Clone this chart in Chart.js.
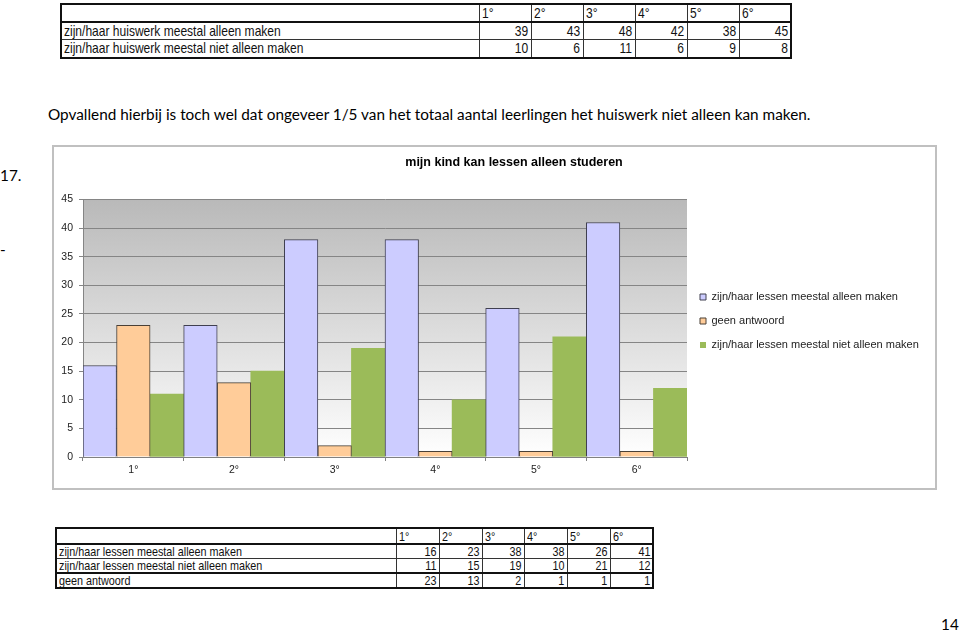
<!DOCTYPE html>
<html><head><meta charset="utf-8">
<script src="https://cdn.jsdelivr.net/npm/chart.js@4.4.0/dist/chart.umd.min.js"></script>
<style>
body{margin:0;width:960px;height:634px;background:#fff;position:relative;overflow:hidden;font-family:"Liberation Sans",Arial,sans-serif;}
.abs{position:absolute;white-space:nowrap;}
.doc{font-family:Lato,"Open Sans",sans-serif;color:#000;line-height:1;}
table.xl{border-collapse:collapse;position:absolute;table-layout:fixed;color:#111;border:2px solid #111;font-family:"Liberation Sans",Arial,sans-serif;}
table.xl td{border:1px solid #333;padding:0 2px;white-space:nowrap;overflow:hidden;line-height:1;}
table.xl td span{display:inline-block;transform:scaleX(0.83);transform-origin:left center;}
table.xl td.n{text-align:right;}
table.xl td.n span{transform-origin:right center;}
table.xl tr.hd td{border-bottom:2px solid #111;}
table.xl tr.thick td{border-top:2px solid #111;}
#chartBox{position:absolute;left:52px;top:145px;width:881px;height:341px;border:2px solid #c0c0c0;background:#fff;}
</style></head>
<body>
<table class="xl" id="topTable" style="left:60px;top:3px;width:730px;font-size:14.5px;"></table>

<div class="abs doc" id="para" style="left:48px;top:107px;font-size:15.5px;">Opvallend hierbij is toch wel dat ongeveer 1/5 van het totaal aantal leerlingen het huiswerk niet alleen kan maken.</div>
<div class="abs doc" style="left:0px;top:168px;font-size:15.5px;">17.</div>
<div class="abs doc" style="left:0px;top:242px;font-size:15.5px;">-</div>

<div id="chartBox"><canvas id="c" width="881" height="341"></canvas></div>

<table class="xl" id="botTable" style="left:55px;top:527px;width:597px;font-size:13px;"></table>

<div class="abs doc" style="left:941px;top:617px;font-size:15.5px;">14</div>

<script>
// ---- data ----
const categories = ['1°','2°','3°','4°','5°','6°'];
const lessenAlleen = [16, 23, 38, 38, 26, 41];
const geenAntwoord = [23, 13, 2, 1, 1, 1];
const lessenNietAlleen = [11, 15, 19, 10, 21, 12];
const huiswerkAlleen = [39, 43, 48, 42, 38, 45];
const huiswerkNietAlleen = [10, 6, 11, 6, 9, 8];
const seriesNames = ['zijn/haar lessen meestal alleen maken', 'geen antwoord', 'zijn/haar lessen meestal niet alleen maken'];
const huiswerkNames = ['zijn/haar huiswerk meestal alleen maken', 'zijn/haar huiswerk meestal niet alleen maken'];
const chartTitle = 'mijn kind kan lessen alleen studeren';

// ---- tables ----
function cell(text, cls) {
  const td = document.createElement('td');
  if (cls) td.className = cls;
  const s = document.createElement('span'); s.textContent = text; td.appendChild(s);
  return td;
}
function buildTable(id, labelW, colWs, rows, rowHs, thickBefore) {
  const t = document.getElementById(id);
  const cg = document.createElement('colgroup');
  [labelW, ...colWs].forEach(w => { const c = document.createElement('col'); c.style.width = w + 'px'; cg.appendChild(c); });
  t.appendChild(cg);
  const hd = document.createElement('tr'); hd.className = 'hd'; hd.style.height = rowHs[0] + 'px';
  hd.appendChild(document.createElement('td'));
  categories.forEach(c => hd.appendChild(cell(c)));
  t.appendChild(hd);
  rows.forEach((r, i) => {
    const tr = document.createElement('tr'); tr.style.height = rowHs[i + 1] + 'px';
    if (thickBefore.includes(i)) tr.className = 'thick';
    tr.appendChild(cell(r[0]));
    r[1].forEach(v => tr.appendChild(cell(v, 'n')));
    t.appendChild(tr);
  });
}
buildTable('topTable', 418, [52,52,52,52,52,52],
  [[huiswerkNames[0], huiswerkAlleen], [huiswerkNames[1], huiswerkNietAlleen]], [18,17,19], []);
buildTable('botTable', 340, [43,43,42,43,43,43],
  [[seriesNames[0], lessenAlleen], [seriesNames[2], lessenNietAlleen], [seriesNames[1], geenAntwoord]], [16,14,14,15], [2]);

// fit paragraph width
(function(){
  const el = document.getElementById('para');
  const ctx = document.createElement('canvas').getContext('2d');
  ctx.font = '16px Lato';
  const w = ctx.measureText(el.textContent).width;
  const fs = 16 * 764 / w;
  document.querySelectorAll('.doc').forEach(d => d.style.fontSize = fs + 'px');
})();

// ---- chart ----
const plotBg = {
  id: 'plotBg',
  beforeDraw(chart) {
    const {ctx, chartArea: a} = chart;
    const g = ctx.createLinearGradient(0, a.top, 0, a.bottom);
    g.addColorStop(0, '#b9b9b9');
    g.addColorStop(1, '#ffffff');
    ctx.save(); ctx.fillStyle = g;
    ctx.fillRect(a.left, a.top, a.right - a.left, a.bottom - a.top);
    ctx.restore();
  }
};
const titleShift = {
  id: 'titleShift',
  afterLayout(chart) {
    const t = chart.titleBlock;
    if (t) { t.left = 39; t.right = chart.width; t.width = t.right - t.left; }
  }
};
const FONT = '"Liberation Sans", Arial, sans-serif';
const chart = new Chart(document.getElementById('c'), {
  type: 'bar',
  data: {
    labels: categories,
    datasets: [
      {label: seriesNames[0], data: lessenAlleen, backgroundColor: '#ccccff', borderColor: '#404050', borderWidth: 1},
      {label: seriesNames[1], data: geenAntwoord, backgroundColor: '#ffcc99', borderColor: '#4a4036', borderWidth: 1},
      {label: seriesNames[2], data: lessenNietAlleen, backgroundColor: '#9bbb59', borderColor: '#9bbb59', borderWidth: 0}
    ]
  },
  options: {
    responsive: false,
    animation: false,
    layout: {padding: {top: 7, bottom: 0, left: 0, right: 10}},
    datasets: {bar: {categoryPercentage: 1, barPercentage: 1}},
    plugins: {
      title: {display: true, text: chartTitle, color: '#000', font: {family: FONT, size: 12.5, weight: 'bold'}, padding: {top: 1, bottom: 29.6}},
      legend: {position: 'right', maxWidth: 300, labels: {font: {family: FONT, size: 11}, color: '#222', boxWidth: 6, boxHeight: 6, padding: 13}},
      tooltip: {enabled: false}
    },
    scales: {
      x: {
        afterFit(s) { s.height = 31; },
        grid: {display: true, drawOnChartArea: false, drawTicks: true, tickLength: 4, color: '#808080'},
        border: {display: true, color: '#808080'},
        ticks: {font: {family: FONT, size: 10.5}, color: '#222', padding: 3}
      },
      y: {
        min: 0, max: 45,
        afterFit(s) { s.width = 29; },
        grid: {color: '#858585', tickLength: 4, drawTicks: true},
        border: {display: true, color: '#858585'},
        ticks: {stepSize: 5, font: {family: FONT, size: 10.5}, color: '#222', padding: 6}
      }
    }
  },
  plugins: [plotBg, titleShift]
});
// align plot right edge
const diff = chart.chartArea.right - 633;
chart.options.layout.padding.right = Math.max(0, 10 + diff);
chart.update('none');
</script>
</body></html>
